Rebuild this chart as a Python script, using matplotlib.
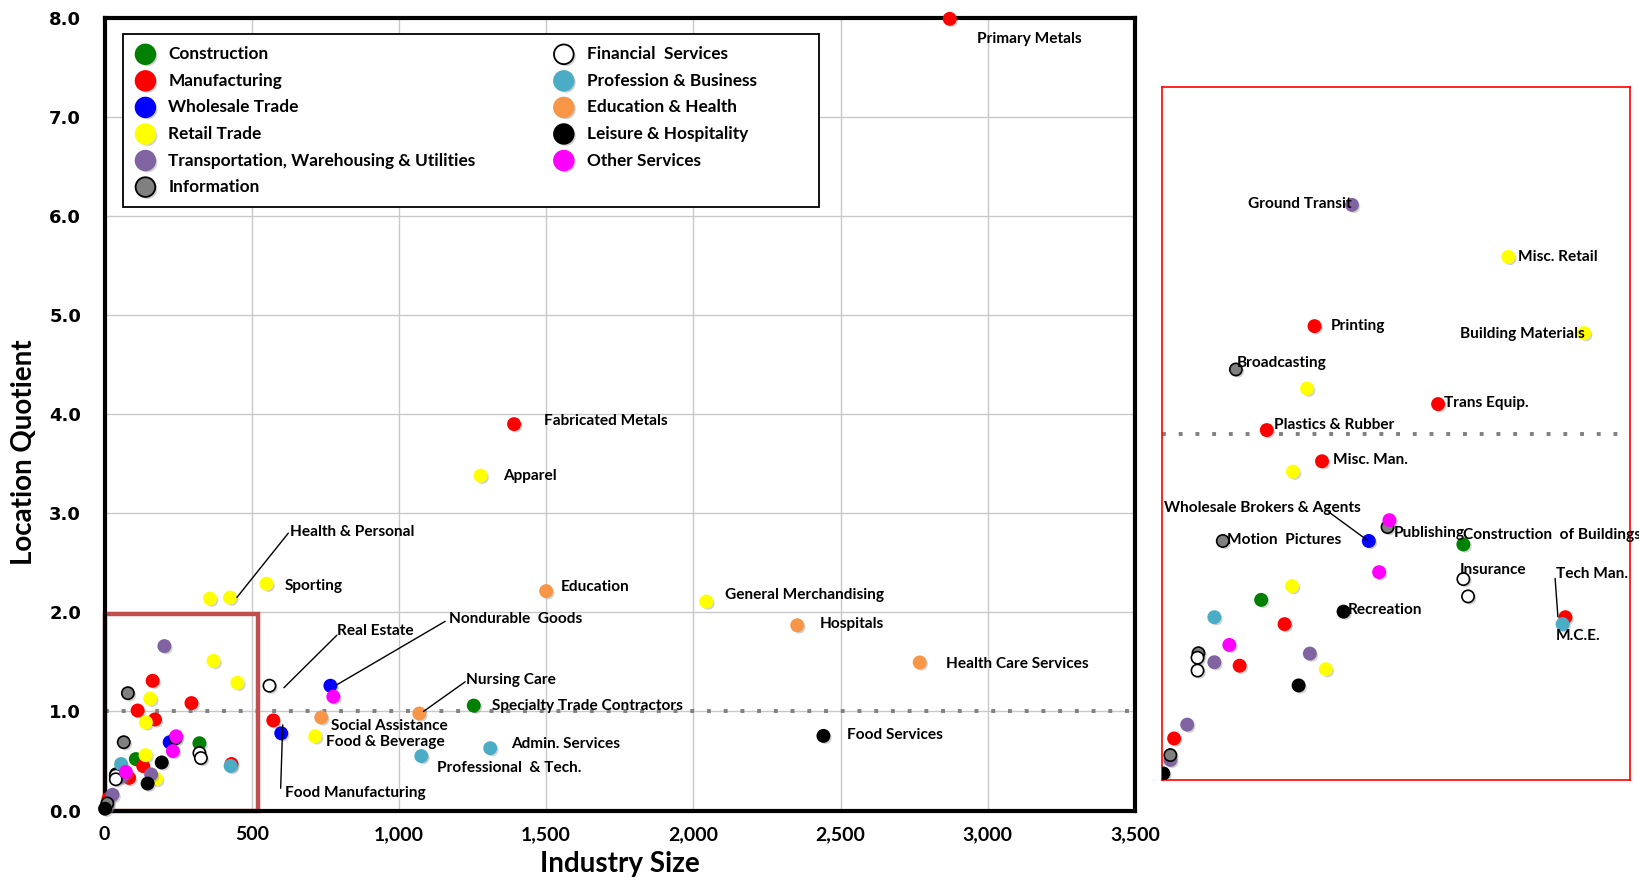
import matplotlib
matplotlib.use("Agg")
import matplotlib.pyplot as plt
import matplotlib.patheffects as pe
from matplotlib.patches import Rectangle

plt.rcParams["font.family"] = ["Lato", "DejaVu Sans"]

# industry size (x) and location quotient (y) by sector
construction_x = [1254, 322, 106]
construction_y = [1.06, 0.68, 0.52]

manufacturing_x = [2871, 1391, 163, 295, 112, 171, 131, 431, 83, 13, 573]
manufacturing_y = [7.99, 3.90, 1.31, 1.085, 1.01, 0.92, 0.45, 0.47, 0.33, 0.12, 0.91]

wholesale_x = [767, 600, 221]
wholesale_y = [1.26, 0.78, 0.69]

retail_x = [1277, 550, 358, 426, 2044, 370, 451, 155, 140, 715, 139, 175]
retail_y = [3.38, 2.29, 2.14, 2.15, 2.11, 1.51, 1.29, 1.13, 0.89, 0.75, 0.56, 0.32]

transport_x = [203, 56, 158, 27, 9]
transport_y = [1.66, 0.34, 0.365, 0.16, 0.058]

information_x = [79, 65, 241, 39, 9]
information_y = [1.185, 0.69, 0.73, 0.366, 0.072]

financial_x = [560, 322, 327, 38, 38]
financial_y = [1.26, 0.58, 0.53, 0.353, 0.316]

profession_x = [1076, 1310, 428, 56]
profession_y = [0.55, 0.63, 0.45, 0.47]

education_x = [1500, 2353, 2769, 1069, 736]
education_y = [2.215, 1.87, 1.495, 0.98, 0.94]

leisure_x = [2442, 194, 146, 1.5]
leisure_y = [0.754, 0.486, 0.273, 0.019]

other_x = [777, 243, 232, 72]
other_y = [1.15, 0.75, 0.60, 0.39]

sectors = [
    ("Construction", construction_x, construction_y, "#008000", "#008000"),
    ("Manufacturing", manufacturing_x, manufacturing_y, "#FF0000", "#FF0000"),
    ("Wholesale Trade", wholesale_x, wholesale_y, "#0000FF", "#0000FF"),
    ("Retail Trade", retail_x, retail_y, "#FFFF00", "#FFFF00"),
    ("Transportation, Warehousing & Utilities", transport_x, transport_y, "#8064A2", "#8064A2"),
    ("Information", information_x, information_y, "#808080", "#000000"),
    ("Financial  Services", financial_x, financial_y, "#FFFFFF", "#000000"),
    ("Profession & Business", profession_x, profession_y, "#4BACC6", "#4BACC6"),
    ("Education & Health", education_x, education_y, "#F79646", "#F79646"),
    ("Leisure & Hospitality", leisure_x, leisure_y, "#000000", "#000000"),
    ("Other Services", other_x, other_y, "#FF00FF", "#FF00FF"),
]

main_labels = [
    ("Primary Metals", 2963, 7.79),
    ("Fabricated Metals", 1494, 3.93),
    ("Apparel", 1353, 3.38),
    ("Health & Personal", 630, 2.81),
    ("Sporting", 611, 2.27),
    ("Education", 1550, 2.26),
    ("General Merchandising", 2109, 2.18),
    ("Hospitals", 2428, 1.88),
    ("Health Care Services", 2860, 1.48),
    ("Real Estate", 791, 1.81),
    ("Nondurable  Goods", 1170, 1.93),
    ("Nursing Care", 1227, 1.315),
    ("Specialty Trade Contractors", 1315, 1.055),
    ("Social Assistance", 769, 0.855),
    ("Food & Beverage", 752, 0.695),
    ("Admin. Services", 1381, 0.675),
    ("Professional  & Tech.", 1128, 0.433),
    ("Food Services", 2523, 0.765),
    ("Food Manufacturing", 613, 0.175),
]
main_leaders = [
    ((624, 2.80), (449, 2.15)),
    ((789, 1.77), (609, 1.24)),
    ((1157, 1.91), (789, 1.27)),
    ((1225, 1.30), (1083, 1.00)),
    ((598, 0.225), (605, 0.864)),
]

inset_labels = [
    ("Ground Transit", 92, 1.662),
    ("Misc. Retail", 380, 1.51),
    ("Printing", 180, 1.311),
    ("Building Materials", 318, 1.287),
    ("Broadcasting", 80, 1.203),
    ("Trans Equip.", 301, 1.087),
    ("Plastics & Rubber", 120, 1.025),
    ("Misc. Man.", 183, 0.924),
    ("Wholesale Brokers & Agents", 2, 0.784),
    ("Motion  Pictures", 69, 0.693),
    ("Publishing", 248, 0.714),
    ("Construction  of Buildings", 322, 0.707),
    ("Insurance", 318, 0.606),
    ("Tech Man.", 421, 0.594),
    ("Recreation", 198, 0.491),
    ("M.C.E.", 421, 0.416),
]
inset_leaders = [
    ((178, 0.774), (219, 0.693)),
    ((420, 0.582), (423, 0.471)),
]

shadow = [pe.SimplePatchShadow(offset=(1.5, -1.5), shadow_rgbFace="gray", alpha=0.35), pe.Normal()]

fig = plt.figure(figsize=(16.4, 8.83), dpi=100)
ax = fig.add_axes([0.0638, 0.082, 0.6282, 0.8978])
ax_in = fig.add_axes([0.7085, 0.1166, 0.2854, 0.7848])

# main chart
ax.set_xlim(0, 3500)
ax.set_ylim(0, 8)
ax.set_xticks(range(0, 3501, 500))
ax.set_xticklabels([f"{v:,}" for v in range(0, 3501, 500)], fontsize=14, fontweight="bold")
ax.set_yticks(range(0, 9))
ax.set_yticklabels([f"{v:.1f}" for v in range(0, 9)], fontsize=13, fontweight="bold",
                   family="DejaVu Sans")
ax.tick_params(axis="both", length=0)
ax.tick_params(axis="y", pad=17)
ax.tick_params(axis="x", pad=11)
ax.grid(True, color="#C8C8C8", linewidth=1)
ax.set_axisbelow(True)
for sp in ax.spines.values():
    sp.set_linewidth(3)
    sp.set_color("black")
ax.axhline(1.0, color="#808080", linewidth=2.8, linestyle=(0, (1, 3.3)), zorder=1.5)

ax.set_xlabel("Industry Size", fontsize=20, fontweight="bold", labelpad=6)
ax.set_ylabel("Location Quotient", fontsize=20, fontweight="bold")
ax.yaxis.set_label_coords(-0.066, 0.452)

ax.add_patch(Rectangle((0, 0), 522, 1.98, fill=False, edgecolor="#C0504D",
                       linewidth=3.2, clip_on=False, zorder=2.5))

for name, xs, ys, face, edge in sectors:
    for a in (ax, ax_in):
        a.scatter(xs, ys, s=78, c=face, edgecolors=edge, linewidths=1.2, zorder=3,
                  clip_on=(a is ax_in), path_effects=shadow)

for text, x, y in main_labels:
    ax.text(x, y, text, fontsize=11.1, fontweight="bold", va="center", ha="left", zorder=4)
for start, end in main_leaders:
    ax.annotate("", xy=end, xytext=start,
                arrowprops=dict(arrowstyle="-", color="black", lw=1, shrinkA=0, shrinkB=0))

# legend box drawn in axes coordinates
ax.add_patch(Rectangle((0.0179, 0.7614), 0.6756, 0.2176, transform=ax.transAxes,
                       facecolor="white", edgecolor="black", linewidth=1.3, zorder=5))
for i, (name, xs, ys, face, edge) in enumerate(sectors):
    col, row = divmod(i, 6)
    mx = [0.0396, 0.4457][col]
    tx = [0.0619, 0.468][col]
    yy = 0.954 - row * 0.0335
    ax.scatter([mx], [yy], s=200, c=face, edgecolors=edge, linewidths=1.3,
               transform=ax.transAxes, zorder=6, clip_on=False, path_effects=shadow)
    ax.text(tx, yy, name, transform=ax.transAxes, fontsize=12.4, fontweight="bold",
            va="center", ha="left", zorder=6)

# zoomed inset
ax_in.set_xlim(0, 500)
ax_in.set_ylim(0, 2)
ax_in.set_xticks([])
ax_in.set_yticks([])
for sp in ax_in.spines.values():
    sp.set_color("#FF0000")
    sp.set_linewidth(1.2)
ax_in.axhline(1.0, color="#808080", linewidth=2.8, linestyle=(0, (1, 3.3)), zorder=1.5)
for text, x, y in inset_labels:
    ax_in.text(x, y, text, fontsize=11.1, fontweight="bold", va="center", ha="left",
               zorder=4, clip_on=False)
for start, end in inset_leaders:
    ax_in.annotate("", xy=end, xytext=start,
                   arrowprops=dict(arrowstyle="-", color="black", lw=1, shrinkA=0, shrinkB=0))

fig.savefig("out.png", dpi=100)
